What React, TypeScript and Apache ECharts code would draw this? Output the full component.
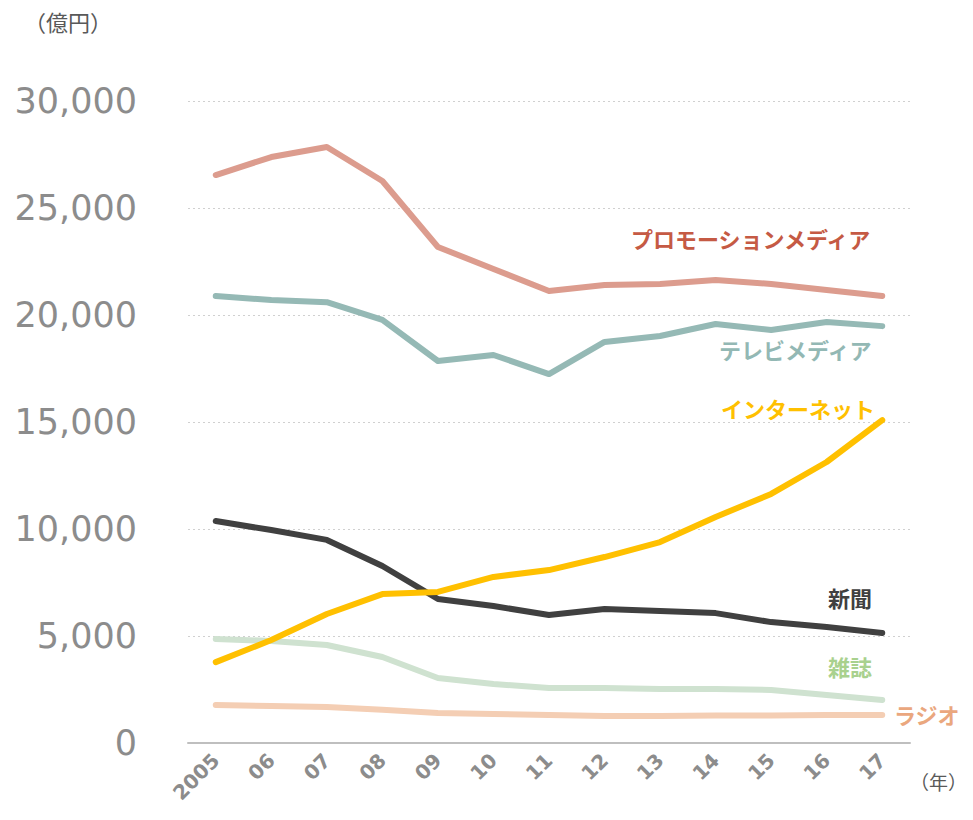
import React, { useEffect, useRef } from "react";
import * as echarts from "echarts";

const years = ["2005", "06", "07", "08", "09", "10", "11", "12", "13", "14", "15", "16", "17"];
const promotion = [26540, 27380, 27850, 26260, 23180, 22150, 21120, 21400, 21450, 21640, 21450, 21170, 20890];
const tv = [20890, 20700, 20600, 19770, 17850, 18130, 17240, 18740, 19020, 19580, 19300, 19670, 19480];
const internet = [3780, 4810, 6030, 6960, 7060, 7760, 8080, 8690, 9390, 10560, 11640, 13130, 15090];
const newspaper = [10370, 9950, 9490, 8270, 6730, 6400, 5980, 6260, 6170, 6070, 5650, 5420, 5140];
const magazine = [4860, 4770, 4580, 4020, 3040, 2760, 2570, 2570, 2520, 2520, 2480, 2240, 2010];
const radio = [1780, 1730, 1680, 1550, 1400, 1360, 1310, 1260, 1260, 1290, 1290, 1310, 1310];
const yTicks = [0, 5000, 10000, 15000, 20000, 25000, 30000];

export default function App() {
  const ref = useRef<HTMLDivElement>(null);
  useEffect(() => {
    if (!ref.current) return;
    const chart = echarts.init(ref.current, null, { renderer: "svg" });
    const mk = (name: string, data: number[], color: string, z: number) => ({
      name,
      type: "line",
      data,
      symbol: "none",
      z,
      lineStyle: { color, width: 6, cap: "round", join: "round" },
    });
    const jp = "'Noto Sans CJK JP', sans-serif";
    const label = (text: string, right: number, top: number, color: string) => ({
      type: "text",
      right,
      top,
      style: { text, fill: color, font: `bold 22px ${jp}` },
    });
    chart.setOption({
      animation: false,
      grid: { left: 188, right: 63, top: 101, bottom: 77 },
      xAxis: {
        type: "category",
        data: years,
        boundaryGap: true,
        axisLine: { lineStyle: { color: "#bfbfbf", width: 2 } },
        axisTick: { show: false },
        axisLabel: {
          rotate: 45,
          interval: 0,
          margin: 14,
          color: "#8c8c8c",
          fontSize: 20,
          fontWeight: "bold",
          fontFamily: "DejaVu Sans",
        },
      },
      yAxis: {
        type: "value",
        min: yTicks[0],
        max: yTicks[yTicks.length - 1],
        interval: 5000,
        axisLine: { show: false },
        axisTick: { show: false },
        splitLine: { lineStyle: { color: "#d0d0d0", type: [2, 3], width: 1 } },
        axisLabel: {
          color: "#8c8c8c",
          fontSize: 35,
          fontFamily: "DejaVu Sans",
          margin: 51,
          formatter: (v: number) => v.toLocaleString("en-US"),
        },
      },
      graphic: [
        { type: "text", left: 24, top: 10, style: { text: "（億円）", fill: "#595959", font: `22px ${jp}` } },
        { type: "text", left: 910, top: 772, style: { text: "（年）", fill: "#595959", font: `19px ${jp}` } },
        label("プロモーションメディア", 100, 227, "#c55a44"),
        label("テレビメディア", 100, 338, "#93b8b4"),
        label("インターネット", 98, 397, "#ffc000"),
        label("新聞", 101, 586, "#404040"),
        label("雑誌", 101, 655, "#a9d18e"),
        label("ラジオ", 13, 703, "#eaa77e"),
      ],
      series: [
        mk("ラジオ", radio, "#f4ceb4", 2),
        mk("雑誌", magazine, "#cfe2d0", 2),
        mk("プロモーションメディア", promotion, "#dc9c8e", 3),
        mk("テレビメディア", tv, "#95b9b5", 3),
        mk("新聞", newspaper, "#404040", 4),
        mk("インターネット", internet, "#ffc000", 5),
      ],
    });
    return () => chart.dispose();
  }, []);
  return <div ref={ref} style={{ width: 973, height: 820, position: "absolute", left: 0, top: 0 }} />;
}
